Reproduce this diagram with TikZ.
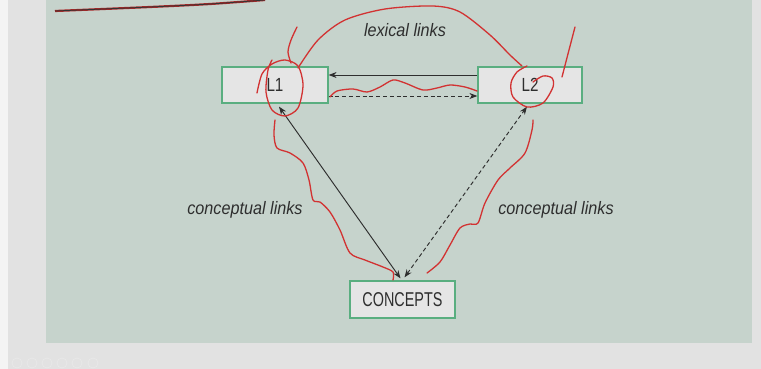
\documentclass[tikz,border=0pt]{standalone}
\usepackage{fontspec}
\setmainfont{Liberation Sans}
\newfontfamily\lfont{Liberation Sans}[FakeStretch=0.8]
\newfontfamily\cfont{Liberation Sans}[FakeStretch=0.72]
\newfontfamily\labfont{Liberation Sans}[FakeStretch=0.9]
\usetikzlibrary{arrows.meta,calc}
\definecolor{outerbg}{HTML}{E2E2E2}
\definecolor{panelbg}{HTML}{C6D3CC}
\definecolor{boxfill}{HTML}{E5E5E5}
\definecolor{boxedge}{HTML}{5AAE80}
\definecolor{ink}{HTML}{2E2E2E}
\definecolor{pen}{HTML}{D23232}
\tikzset{
  termbox/.style={draw=boxedge, line width=1.2pt, fill=boxfill, text=ink, inner sep=0pt},
  link/.style={draw=ink, line width=0.95pt},
  tip/.style={-{Stealth[length=8pt,width=6pt]}},
  dtip/.style={{Stealth[length=8pt,width=6pt]}-{Stealth[length=8pt,width=6pt]}},
  dashline/.style={dash pattern=on 4pt off 2.8pt},
  lab/.style={text=ink, font=\labfont\itshape\fontsize{18}{18}\selectfont},
  scribble/.style={draw=pen, line width=1.3pt, line cap=round, line join=round}
}
\begin{document}
\begin{tikzpicture}[x=1pt,y=-1pt]
\useasboundingbox (0,0) rectangle (761,369);
\fill[outerbg] (0,0) rectangle (761,369);
\fill[white!60!outerbg] (0,0) rectangle (8,369);
\fill[panelbg] (46,0) rectangle (752,343);
% nav icons
\foreach \xx in {17,32,47,62,77,93}
  \draw[black!9, line width=0.8pt] (\xx,363) circle (5);

% nodes
\node[termbox, minimum width=106pt, minimum height=36pt] (L1) at (275,85) {\lfont\fontsize{19}{19}\selectfont L1};
\node[termbox, minimum width=104pt, minimum height=36pt] (L2) at (530,85) {\lfont\fontsize{19}{19}\selectfont L2};
\node[termbox, minimum width=105pt, minimum height=37pt] (C) at (402.5,299.5) {\cfont\fontsize{20}{20}\selectfont CONCEPTS};

\node[lab] (lex) at (405,30) {lexical links};
\node[lab] (cl) at (245,210) {conceptual links};
\node[lab] (cr) at (556,210) {conceptual links};

% connectors
\draw[link, tip] ([yshift=10pt]L2.west) -- ([yshift=10pt]L1.east);
\draw[link, tip, dashline] ([yshift=-11pt]L1.east) -- ([yshift=-11pt]L2.west);
\draw[link, dtip] ([xshift=4pt,yshift=-3pt]L1.south) -- ([xshift=-2pt,yshift=2pt]C.north);
\draw[link, dtip, dashline] ([xshift=2pt,yshift=3pt]C.north) -- ([xshift=-3pt,yshift=-3pt]L2.south);

% red annotations
\draw[draw=pen!80!black, line width=2.2pt] plot[smooth] coordinates {(55,11) (150,7) (210,4) (265,0)};
\draw[black!80, line width=0.8pt] plot[smooth] coordinates {(55,11) (150,7) (210,4) (265,0)};
\draw[scribble] plot[smooth] coordinates {(257,93) (262,74) (272,64) (285,60) (298,66) (303,85) (298,108) (285,116) (272,110) (266,92) (268,70) (272,60)};
\draw[scribble] plot[smooth] coordinates {(297,27) (291,40) (288,52) (291,63)};
\draw[scribble] plot[smooth] coordinates {(298,68) (318,40) (345,20) (385,9) (433,6) (460,12) (490,35) (510,55) (522,66)};
\draw[scribble] plot[smooth] coordinates {(330,97) (337,91) (353,89) (367,92) (380,87) (393,80) (405,83) (423,90) (437,88) (450,85) (465,87) (477,91)};
\draw[scribble] plot[smooth] coordinates {(527,66) (517,72) (511,83) (513,97) (527,107) (543,103) (553,87) (552,78) (543,76) (533,82)};
\draw[scribble] plot[smooth] coordinates {(575,27) (569,50) (562,77)};
\draw[scribble] plot[smooth] coordinates {(275,120) (274,135) (277,148) (290,153) (303,163) (309,180) (313,200) (320,202) (330,212) (340,230) (350,253) (365,260) (383,267) (393,272) (393,280)};
\draw[scribble] plot[smooth] coordinates {(533,120) (532,130) (525,153) (510,168) (498,180) (485,203) (478,223) (470,224) (460,228) (450,245) (440,262) (427,273)};
\end{tikzpicture}
\end{document}
